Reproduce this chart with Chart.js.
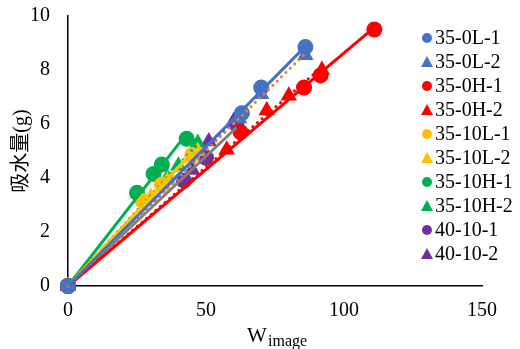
<!DOCTYPE html>
<html>
<head>
<meta charset="utf-8">
<script src="https://cdn.jsdelivr.net/npm/chart.js@4.4.1/dist/chart.umd.min.js"></script>
<style>
  html, body { margin: 0; padding: 0; background: #fff; }
  #grafico { display: block; }
</style>
</head>
<body>
<canvas id="grafico" width="520" height="349"></canvas>
<script>
// series names
const nomes = ["35-0L-1", "35-0L-2", "35-0H-1", "35-0H-2", "35-10L-1", "35-10L-2", "35-10H-1", "35-10H-2", "40-10-1", "40-10-2"];

// values (W_image, g)
const x_35_0L_1 = [0, 63, 70, 86];
const y_35_0L_1 = [0, 6.4, 7.35, 8.85];
const x_35_0L_2 = [0, 62, 70, 86];
const y_35_0L_2 = [0, 6.2, 7.1, 8.55];
const x_35_0H_1 = [0, 62.5, 85.5, 91.5, 111];
const y_35_0H_1 = [0, 5.7, 7.35, 7.8, 9.5];
const x_35_0H_2 = [0, 57.5, 72, 80, 92];
const y_35_0H_2 = [0, 5.05, 6.5, 7.05, 8.0];
const x_35_10L_1 = [0, 27, 34, 45];
const y_35_10L_1 = [0, 3.15, 3.75, 4.85];
const x_35_10L_2 = [0, 30, 36, 47];
const y_35_10L_2 = [0, 3.3, 3.9, 5.0];
const x_35_10H_1 = [0, 25, 31, 34, 43];
const y_35_10H_1 = [0, 3.45, 4.15, 4.5, 5.45];
const x_35_10H_2 = [0, 36, 40, 47];
const y_35_10H_2 = [0, 4.0, 4.45, 5.3];
const x_40_10_1 = [0, 42, 50, 61];
const y_40_10_1 = [0, 3.9, 4.75, 6.0];
const x_40_10_2 = [0, 45, 51, 60];
const y_40_10_2 = [0, 4.3, 5.35, 6.1];

const xTicks = [0, 50, 100, 150];
const yTicks = [0, 2, 4, 6, 8, 10];

const xs = [x_35_0L_1, x_35_0L_2, x_35_0H_1, x_35_0H_2, x_35_10L_1, x_35_10L_2, x_35_10H_1, x_35_10H_2, x_40_10_1, x_40_10_2];
const ys = [y_35_0L_1, y_35_0L_2, y_35_0H_1, y_35_0H_2, y_35_10L_1, y_35_10L_2, y_35_10H_1, y_35_10H_2, y_40_10_1, y_40_10_2];

const cores = ["#4472C4", "#4472C4", "#FF0000", "#FF0000", "#FFC000", "#FFC000", "#00B050", "#00B050", "#7030A0", "#7030A0"];
const marcadores = ["circle", "triangle", "circle", "triangle", "circle", "triangle", "circle", "triangle", "circle", "triangle"];
// trend line colours / dotted or not
const coresTend = ["#4472C4", "#ED7D31", "#FF0000", "#FF0000", "#FFC000", "#FFC000", "#00B050", "#00B050", "#7F7F7F", "#7030A0"];
const pontilhado = [false, true, false, true, false, true, false, true, false, true];

const serif = "'Liberation Serif', 'Times New Roman', serif";
const cjk = "'Liberation Serif', 'Noto Sans CJK SC', serif";

let datasets = [];

// markers
for (let i = 0; i < nomes.length; i++) {
  let pts = [];
  for (let k = 0; k < xs[i].length; k++) pts.push({ x: xs[i][k], y: ys[i][k] });
  datasets.push({
    label: nomes[i],
    data: pts,
    showLine: false,
    pointStyle: marcadores[i],
    pointRadius: marcadores[i] == "circle" ? 8 : 9.5,
    pointBackgroundColor: cores[i],
    pointBorderColor: cores[i],
    pointBorderWidth: 0,
    clip: false,
    order: 2,
  });
}

// linear trend lines through origin
for (let i = 0; i < nomes.length; i++) {
  let sxy = 0, sxx = 0, xmax = 0;
  for (let k = 0; k < xs[i].length; k++) {
    sxy += xs[i][k] * ys[i][k];
    sxx += xs[i][k] * xs[i][k];
    if (xs[i][k] > xmax) xmax = xs[i][k];
  }
  let a = sxy / sxx;
  datasets.push({
    label: "tend " + nomes[i],
    data: [{ x: 0, y: 0 }, { x: xmax, y: a * xmax }],
    showLine: true,
    pointRadius: 0,
    borderColor: coresTend[i],
    borderWidth: 3,
    borderDash: pontilhado[i] ? [0.1, 6] : [],
    borderCapStyle: pontilhado[i] ? "round" : "butt",
    clip: false,
    order: 1,
  });
}

const textos = {
  id: "textos",
  afterDraw(chart) {
    const ctx = chart.ctx;
    ctx.save();
    ctx.fillStyle = "#000";
    // y title
    ctx.font = "20px " + cjk;
    ctx.translate(22, 151);
    ctx.rotate(-Math.PI / 2);
    ctx.textAlign = "center";
    ctx.textBaseline = "middle";
    ctx.fillText("吸水量(g)", 0, 0);
    ctx.restore();

    ctx.save();
    ctx.fillStyle = "#000";
    ctx.textBaseline = "alphabetic";
    ctx.textAlign = "left";
    ctx.font = "21px " + serif;
    ctx.fillText("W", 247, 342);
    ctx.font = "16px " + serif;
    ctx.fillText("image", 268, 346);

    // legend
    ctx.font = "20px " + serif;
    ctx.textBaseline = "middle";
    for (let i = 0; i < nomes.length; i++) {
      let yy = 38 + i * 24;
      ctx.fillStyle = cores[i];
      ctx.beginPath();
      if (marcadores[i] == "circle") {
        ctx.arc(427, yy, 5, 0, Math.PI * 2);
      } else {
        ctx.moveTo(427, yy - 6);
        ctx.lineTo(433, yy + 5);
        ctx.lineTo(421, yy + 5);
        ctx.closePath();
      }
      ctx.fill();
      ctx.fillStyle = "#000";
      ctx.fillText(nomes[i], 435, yy + 1);
    }
    ctx.restore();
  },
};

const ctx = document.getElementById("grafico").getContext("2d");
window.grafico = new Chart(ctx, {
  type: "scatter",
  data: { datasets: datasets },
  options: {
    responsive: false,
    animation: false,
    devicePixelRatio: 1,
    layout: { padding: { top: 16, right: 38, left: 0, bottom: 0 } },
    plugins: { legend: { display: false }, tooltip: { enabled: false } },
    scales: {
      x: {
        type: "linear",
        min: 0,
        max: 150,
        afterBuildTicks: (s) => { s.ticks = xTicks.map((v) => ({ value: v })); },
        afterFit: (s) => { s.height = 63; s.paddingLeft = 0; s.paddingRight = 0; },
        grid: { display: false },
        border: { display: true, color: "#000", width: 1.5 },
        ticks: { color: "#000", font: { family: serif, size: 20 }, padding: 5, maxRotation: 0 },
      },
      y: {
        type: "linear",
        min: 0,
        max: 10,
        afterBuildTicks: (s) => { s.ticks = yTicks.map((v) => ({ value: v })); },
        afterFit: (s) => { s.width = 68; s.paddingTop = 0; s.paddingBottom = 0; },
        grid: { display: false },
        border: { display: true, color: "#000", width: 1.5 },
        ticks: { color: "#000", font: { family: serif, size: 20 }, padding: 10 },
      },
    },
  },
  plugins: [textos],
});
</script>
</body>
</html>
